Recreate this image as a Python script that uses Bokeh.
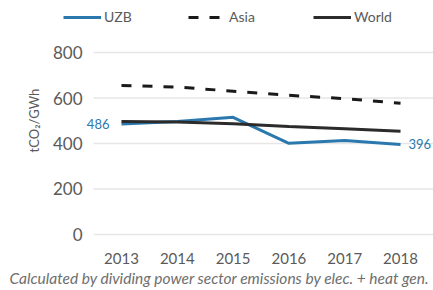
from bokeh.plotting import figure
from bokeh.models import Range1d, Legend, LegendItem, Label, FixedTicker, Title
from bokeh.embed import file_html
from bokeh.resources import INLINE

years = [2013, 2014, 2015, 2016, 2017, 2018]
uzb = [486, 497, 515, 401, 413, 396]
asia = [655, 648, 630, 612, 597, 577]
world = [497, 495, 487, 475, 465, 454]
y_ticks = [0, 200, 400, 600, 800]
series_names = ["UZB", "Asia", "World"]
caption = "Calculated by dividing power sector emissions by elec. + heat gen."

FONT = "Lato"
BLUE = "#2b78ae"
GREY = "#5a5a5a"

X0, X1 = 2011.961, 2018.591
p = figure(width=433, height=290, output_backend="svg", toolbar_location=None,
           x_range=Range1d(X0, X1), y_range=Range1d(-26.4, 1028.6),
           min_border_left=63, min_border_right=0, min_border_top=0, min_border_bottom=50)
p.outline_line_color = None
p.background_fill_color = "white"
p.border_fill_color = "white"

p.segment(x0=[2012.5] * len(y_ticks), y0=y_ticks, x1=[X1] * len(y_ticks), y1=y_ticks,
          line_color="#e6e6e6", line_width=1.5)

r_asia = p.line(years, asia, line_color="#1a1a1a", line_width=3, line_dash="10 11")
r_uzb = p.line(years, uzb, line_color=BLUE, line_width=3)
r_world = p.line(years, world, line_color="#2b2b2b", line_width=3)

p.add_layout(Label(x=years[0], y=uzb[0], text=str(uzb[0]), x_offset=-12, text_align="right",
                   text_baseline="middle", text_color=BLUE, text_font=FONT, text_font_size="13px"))
p.add_layout(Label(x=years[-1], y=uzb[-1], text=str(uzb[-1]), x_offset=8, text_align="left",
                   text_baseline="middle", text_color=BLUE, text_font=FONT, text_font_size="13px"))

p.xaxis.ticker = FixedTicker(ticks=years)
p.yaxis.ticker = FixedTicker(ticks=y_ticks)
for ax in (p.xaxis, p.yaxis):
    ax.axis_line_color = None
    ax.major_tick_line_color = None
    ax.minor_tick_line_color = None
    ax.major_label_text_font = FONT
    ax.major_label_text_color = GREY
p.xaxis.major_label_text_font_size = "15px"
p.yaxis.major_label_text_font_size = "17px"
p.xaxis.major_label_standoff = 6
p.yaxis.major_label_standoff = -25
p.yaxis.axis_label = "tCO₂/GWh"
p.yaxis.axis_label_text_font = FONT
p.yaxis.axis_label_text_font_style = "normal"
p.yaxis.axis_label_text_font_size = "13px"
p.yaxis.axis_label_text_color = GREY
p.yaxis.axis_label_standoff = 8

p.xgrid.grid_line_color = None
p.ygrid.grid_line_color = None

legend_x = [0, 125, 250]
for name, rend, lx in zip(series_names, [r_uzb, r_asia, r_world], legend_x):
    lg = Legend(items=[LegendItem(label=name, renderers=[rend])],
                orientation="horizontal", location=(lx, 215))
    lg.glyph_width = 38
    lg.glyph_height = 16
    lg.label_standoff = 3
    lg.padding = 0
    lg.margin = 0
    lg.border_line_color = None
    lg.background_fill_alpha = 0
    lg.label_text_font = FONT
    lg.label_text_font_size = "14px"
    lg.label_text_color = GREY
    lg.label_height = 16
    p.add_layout(lg, "center")

p.add_layout(Title(text=caption, align="left", offset=-59, standoff=0, padding=(5, 0, 0, 0),
                   text_font=FONT, text_font_style="italic", text_font_size="15.5px",
                   text_color="#6e6e6e"),
             "below")

open("out.html", "w").write(file_html(p, INLINE))
